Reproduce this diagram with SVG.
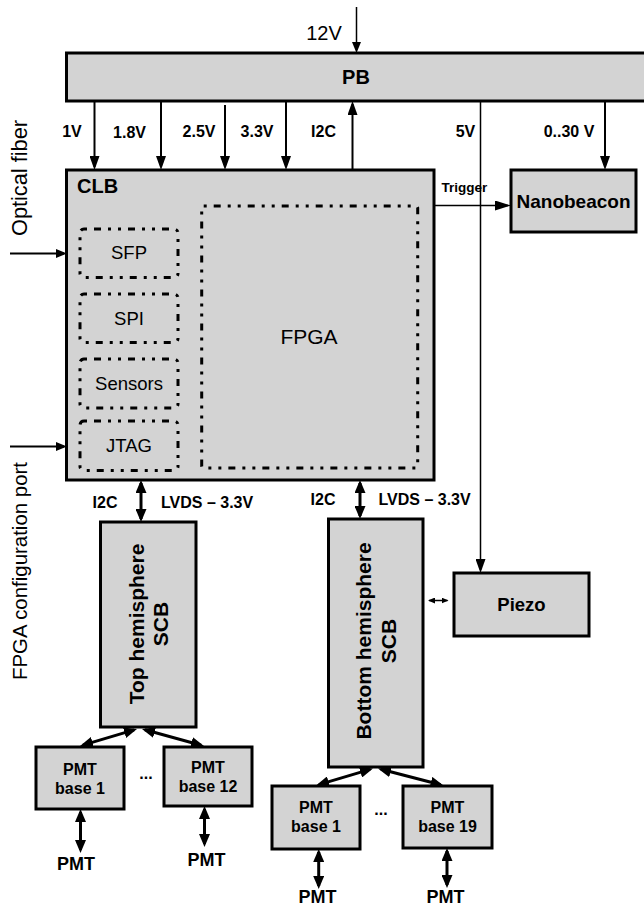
<svg xmlns="http://www.w3.org/2000/svg" width="644" height="909" viewBox="0 0 644 909">
<defs>
<style>
text{font-family:"Liberation Sans",Arial,sans-serif;fill:#000}
.b{font-weight:bold}
.box{fill:#d3d3d3;stroke:#000;stroke-width:3}
.dot{fill:none;stroke:#000;stroke-width:3;stroke-dasharray:3 7 7 7 3 7}
.ln{stroke:#000;fill:none}
.m{text-anchor:middle}
</style>
<marker id="m1" viewBox="0 0 11 9" refX="8" refY="4.5" markerWidth="11" markerHeight="9" markerUnits="userSpaceOnUse" orient="auto-start-reverse"><path d="M0,0 L11,4.5 L0,9 z"/></marker>
<marker id="m2" viewBox="0 0 14 10" refX="11" refY="5" markerWidth="14" markerHeight="10" markerUnits="userSpaceOnUse" orient="auto-start-reverse"><path d="M0,0 L14,5 L0,10 z"/></marker>
<marker id="m3" viewBox="0 0 13 11" refX="10" refY="5.5" markerWidth="13" markerHeight="11" markerUnits="userSpaceOnUse" orient="auto-start-reverse"><path d="M0,0 L13,5.5 L0,11 z"/></marker>
<marker id="m4" viewBox="0 0 7 6" refX="6" refY="3" markerWidth="7" markerHeight="6" markerUnits="userSpaceOnUse" orient="auto-start-reverse"><path d="M0,0 L7,3 L0,6 z"/></marker>
<marker id="mT" viewBox="0 0 16 10" refX="13" refY="5" markerWidth="16" markerHeight="10" markerUnits="userSpaceOnUse" orient="auto-start-reverse"><path d="M0,0 L16,5 L0,10 z"/></marker>
</defs>
<rect width="644" height="909" fill="#fff"/>

<g id="connectors">
<line class="ln" x1="356.5" y1="7" x2="356.5" y2="50" stroke-width="1.5" marker-end="url(#m1)"/>
<line class="ln" x1="94.5" y1="101" x2="94.5" y2="167" stroke-width="2" marker-end="url(#m2)"/>
<line class="ln" x1="161" y1="101" x2="161" y2="167" stroke-width="2" marker-end="url(#m2)"/>
<line class="ln" x1="225" y1="105" x2="225" y2="167" stroke-width="2" marker-end="url(#m2)"/>
<line class="ln" x1="286" y1="101" x2="286" y2="167" stroke-width="2" marker-end="url(#m2)"/>
<line class="ln" x1="352.5" y1="170" x2="352.5" y2="104" stroke-width="2" marker-end="url(#m2)"/>
<line class="ln" x1="480.5" y1="101" x2="480.5" y2="570" stroke-width="1.5" marker-end="url(#m2)"/>
<line class="ln" x1="605" y1="101" x2="605" y2="167" stroke-width="2" marker-end="url(#m2)"/>
<line class="ln" x1="434" y1="205.5" x2="508" y2="205.5" stroke-width="1.5" marker-end="url(#mT)"/>
<line class="ln" x1="10" y1="253.5" x2="64" y2="253.5" stroke-width="2" marker-end="url(#m1)"/>
<line class="ln" x1="10" y1="446.5" x2="64" y2="446.5" stroke-width="2" marker-end="url(#m1)"/>
<line class="ln" x1="141" y1="483" x2="141" y2="519" stroke-width="3" marker-start="url(#m3)" marker-end="url(#m3)"/>
<line class="ln" x1="360" y1="483" x2="360" y2="516" stroke-width="3" marker-start="url(#m3)" marker-end="url(#m3)"/>
<line class="ln" x1="429" y1="600.5" x2="447.5" y2="600.5" stroke-width="1.5" marker-start="url(#m4)" marker-end="url(#m4)"/>
<line class="ln" x1="134.1" y1="729.9" x2="82.9" y2="745.1" stroke-width="3" marker-start="url(#m3)" marker-end="url(#m3)"/>
<line class="ln" x1="144.9" y1="729.8" x2="201.1" y2="745.2" stroke-width="3" marker-start="url(#m3)" marker-end="url(#m3)"/>
<line class="ln" x1="370.1" y1="769.4" x2="318.9" y2="784.6" stroke-width="3" marker-start="url(#m3)" marker-end="url(#m3)"/>
<line class="ln" x1="380.9" y1="769.3" x2="440.6" y2="784.7" stroke-width="3" marker-start="url(#m3)" marker-end="url(#m3)"/>
<line class="ln" x1="80.5" y1="812" x2="80.5" y2="850" stroke-width="3" marker-start="url(#m3)" marker-end="url(#m3)"/>
<line class="ln" x1="204.5" y1="809" x2="204.5" y2="844" stroke-width="3" marker-start="url(#m3)" marker-end="url(#m3)"/>
<line class="ln" x1="318.7" y1="852" x2="318.7" y2="886" stroke-width="3" marker-start="url(#m3)" marker-end="url(#m3)"/>
<line class="ln" x1="447" y1="851" x2="447" y2="885" stroke-width="3" marker-start="url(#m3)" marker-end="url(#m3)"/>
</g>

<g id="labels">
<text x="324" y="40" class="m" font-size="20">12V</text>
<g class="b m" font-size="16">
<text x="72" y="137">1V</text>
<text x="129.5" y="138">1.8V</text>
<text x="199" y="137">2.5V</text>
<text x="257" y="137">3.3V</text>
<text x="323.5" y="137">I2C</text>
<text x="465.5" y="137">5V</text>
<text x="569" y="137">0..30 V</text>
<text x="105" y="508">I2C</text>
<text x="323" y="505">I2C</text>
</g>
<g class="b" font-size="16">
<text x="161" y="508">LVDS – 3.3V</text>
<text x="378.5" y="505">LVDS – 3.3V</text>
</g>
<text x="441.5" y="192" class="b" font-size="13.5">Trigger</text>
<text class="m" font-size="22" textLength="116" lengthAdjust="spacingAndGlyphs" transform="translate(27,178) rotate(-90)">Optical fiber</text>
<text class="m" font-size="21" textLength="218" lengthAdjust="spacingAndGlyphs" transform="translate(27,571) rotate(-90)">FPGA configuration port</text>
<text x="146" y="779" class="b m" font-size="16">...</text>
<text x="381" y="815" class="b m" font-size="16">...</text>
<g class="b m" font-size="18">
<text x="76" y="870">PMT</text>
<text x="206.5" y="866">PMT</text>
<text x="317.5" y="903">PMT</text>
<text x="445.5" y="903">PMT</text>
</g>
</g>

<g id="PB">
<rect class="box" x="66.5" y="53" width="590" height="48"/>
<text x="356" y="84" class="b m" font-size="20">PB</text>
</g>

<g id="CLB">
<rect class="box" x="66.5" y="170" width="367.5" height="310"/>
<text x="77" y="193" class="b" font-size="20">CLB</text>
</g>

<g id="FPGA">
<rect class="dot" x="201.7" y="206" width="216" height="262" rx="2"/>
<text x="309" y="344" class="m" font-size="21">FPGA</text>
</g>
<g id="SFP">
<rect class="dot" x="80" y="229" width="98" height="48.5" rx="4"/>
<text x="129" y="259" class="m" font-size="18.5">SFP</text>
</g>
<g id="SPI">
<rect class="dot" x="80" y="294" width="98" height="48.5" rx="4"/>
<text x="129" y="325" class="m" font-size="18.5">SPI</text>
</g>
<g id="Sensors">
<rect class="dot" x="80" y="359" width="98" height="49" rx="4"/>
<text x="129" y="390" class="m" font-size="18.5">Sensors</text>
</g>
<g id="JTAG">
<rect class="dot" x="80" y="421" width="98" height="49.5" rx="4"/>
<text x="129" y="451.5" class="m" font-size="18.5">JTAG</text>
</g>

<g id="Nanobeacon">
<rect class="box" x="511" y="170" width="125" height="62"/>
<text x="573.5" y="208" class="b m" font-size="19">Nanobeacon</text>
</g>

<g id="Piezo">
<rect class="box" x="454" y="573" width="135" height="63"/>
<text x="521.5" y="611" class="b m" font-size="18.5">Piezo</text>
</g>

<g id="TopSCB">
<rect class="box" x="100.5" y="522" width="95.5" height="205"/>
<text class="b m" font-size="21" transform="translate(143.5,624) rotate(-90)">Top hemisphere</text>
<text class="b m" font-size="21" transform="translate(168,624) rotate(-90)">SCB</text>
</g>

<g id="BottomSCB">
<rect class="box" x="328.5" y="519" width="94.5" height="248"/>
<text class="b m" font-size="21" transform="translate(371,641) rotate(-90)">Bottom hemisphere</text>
<text class="b m" font-size="21" transform="translate(396,641) rotate(-90)">SCB</text>
</g>

<g id="PMTbase1top">
<rect class="box" x="36" y="747" width="88" height="62"/>
<text x="80" y="775" class="b m" font-size="16">PMT</text>
<text x="80" y="794" class="b m" font-size="16">base 1</text>
</g>
<g id="PMTbase12">
<rect class="box" x="164" y="747" width="88" height="59"/>
<text x="208" y="773" class="b m" font-size="16">PMT</text>
<text x="208" y="792" class="b m" font-size="16">base 12</text>
</g>
<g id="PMTbase1bottom">
<rect class="box" x="272" y="786" width="88" height="63"/>
<text x="316" y="813" class="b m" font-size="16">PMT</text>
<text x="316" y="832" class="b m" font-size="16">base 1</text>
</g>
<g id="PMTbase19">
<rect class="box" x="403" y="786" width="89" height="62"/>
<text x="447.5" y="813" class="b m" font-size="16">PMT</text>
<text x="447.5" y="832" class="b m" font-size="16">base 19</text>
</g>
</svg>
